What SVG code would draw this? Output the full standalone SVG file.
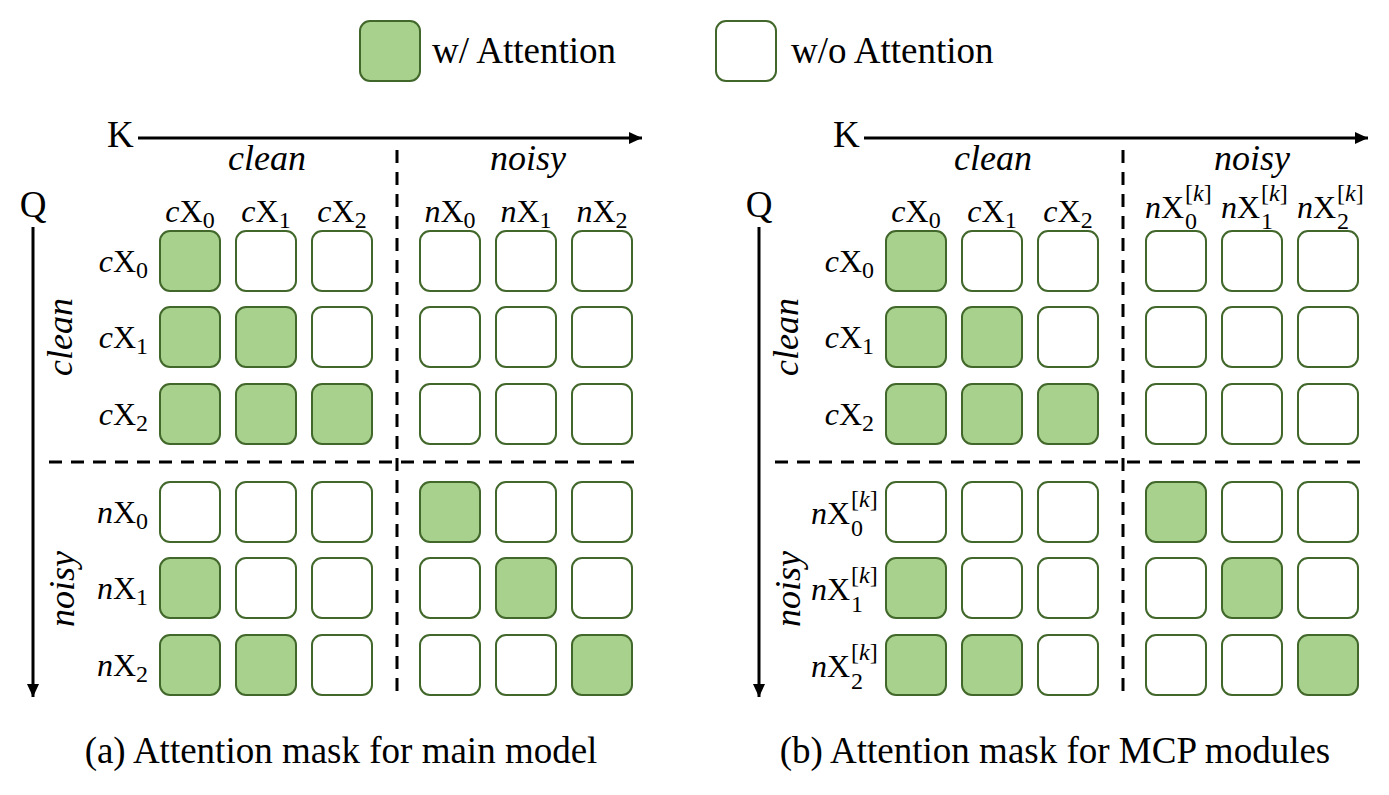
<svg xmlns="http://www.w3.org/2000/svg" width="1389" height="795" viewBox="0 0 1389 795">
<style>
text{font-family:"Liberation Serif","Times New Roman",serif;fill:#000}
.big{font-size:37px}
.hdr{font-size:36px;font-style:italic}
.lbl{font-size:32px}
.it{font-style:italic}
.sub{font-size:24px}
.g{fill:#a9d18e;stroke:#41672a;stroke-width:2}
.w{fill:#fff;stroke:#41672a;stroke-width:2}
.ax{stroke:#000;stroke-width:3;fill:none}
.dash{stroke:#000;stroke-width:3;stroke-dasharray:13 9;fill:none}
</style>
<defs>
<marker id="ah" markerUnits="userSpaceOnUse" markerWidth="14" markerHeight="12" refX="13" refY="6" orient="auto">
<path d="M0,0 L13,6 L0,12 z" fill="#000"/>
</marker>
<rect id="cg" width="60" height="60" rx="10" class="g"/>
<rect id="cw" width="60" height="60" rx="10" class="w"/>
</defs>
<rect width="1389" height="795" fill="#fff"/>

<g id="legend">
<rect x="360" y="21" width="60" height="60" rx="10" class="g"/>
<text x="432" y="63" class="big">w/ Attention</text>
<rect x="716" y="21" width="60" height="60" rx="10" class="w"/>
<text x="791" y="63" class="big">w/o Attention</text>
</g>

<g id="connectors">
<line x1="138" y1="138" x2="642" y2="138" class="ax" marker-end="url(#ah)"/>
<line x1="33" y1="227" x2="33" y2="697" class="ax" marker-end="url(#ah)"/>
<line x1="397" y1="150" x2="397" y2="697" class="dash"/>
<line x1="49" y1="462" x2="634" y2="462" class="dash"/>
<line x1="864" y1="138" x2="1368" y2="138" class="ax" marker-end="url(#ah)"/>
<line x1="759" y1="227" x2="759" y2="697" class="ax" marker-end="url(#ah)"/>
<line x1="1123" y1="150" x2="1123" y2="697" class="dash"/>
<line x1="775" y1="462" x2="1360" y2="462" class="dash"/>
</g>

<g id="panel-a">
<text x="107" y="147" class="big">K</text>
<text x="33" y="217" class="big" text-anchor="middle">Q</text>
<text x="267" y="170" class="hdr" text-anchor="middle">clean</text>
<text x="528" y="170" class="hdr" text-anchor="middle">noisy</text>
<text transform="translate(72,337) rotate(-90)" class="hdr" text-anchor="middle">clean</text>
<text transform="translate(74,589) rotate(-90)" class="hdr" text-anchor="middle">noisy</text>
<g id="a-collabels">
<text x="190" y="222" text-anchor="middle" class="lbl"><tspan class="it">c</tspan>X<tspan class="sub" dy="6">0</tspan></text>
<text x="266" y="222" text-anchor="middle" class="lbl"><tspan class="it">c</tspan>X<tspan class="sub" dy="6">1</tspan></text>
<text x="342" y="222" text-anchor="middle" class="lbl"><tspan class="it">c</tspan>X<tspan class="sub" dy="6">2</tspan></text>
<text x="450" y="222" text-anchor="middle" class="lbl"><tspan class="it">n</tspan>X<tspan class="sub" dy="6">0</tspan></text>
<text x="526" y="222" text-anchor="middle" class="lbl"><tspan class="it">n</tspan>X<tspan class="sub" dy="6">1</tspan></text>
<text x="602" y="222" text-anchor="middle" class="lbl"><tspan class="it">n</tspan>X<tspan class="sub" dy="6">2</tspan></text>
</g>
<g id="a-rowlabels">
<text x="148" y="272" text-anchor="end" class="lbl"><tspan class="it">c</tspan>X<tspan class="sub" dy="6">0</tspan></text>
<text x="148" y="348" text-anchor="end" class="lbl"><tspan class="it">c</tspan>X<tspan class="sub" dy="6">1</tspan></text>
<text x="148" y="425" text-anchor="end" class="lbl"><tspan class="it">c</tspan>X<tspan class="sub" dy="6">2</tspan></text>
<text x="148" y="523" text-anchor="end" class="lbl"><tspan class="it">n</tspan>X<tspan class="sub" dy="6">0</tspan></text>
<text x="148" y="599" text-anchor="end" class="lbl"><tspan class="it">n</tspan>X<tspan class="sub" dy="6">1</tspan></text>
<text x="148" y="676" text-anchor="end" class="lbl"><tspan class="it">n</tspan>X<tspan class="sub" dy="6">2</tspan></text>
</g>
<g id="a-cells">
<use href="#cg" x="160" y="231"/><use href="#cw" x="236" y="231"/><use href="#cw" x="312" y="231"/>
<use href="#cw" x="420" y="231"/><use href="#cw" x="496" y="231"/><use href="#cw" x="572" y="231"/>
<use href="#cg" x="160" y="307"/><use href="#cg" x="236" y="307"/><use href="#cw" x="312" y="307"/>
<use href="#cw" x="420" y="307"/><use href="#cw" x="496" y="307"/><use href="#cw" x="572" y="307"/>
<use href="#cg" x="160" y="384"/><use href="#cg" x="236" y="384"/><use href="#cg" x="312" y="384"/>
<use href="#cw" x="420" y="384"/><use href="#cw" x="496" y="384"/><use href="#cw" x="572" y="384"/>
<use href="#cw" x="160" y="482"/><use href="#cw" x="236" y="482"/><use href="#cw" x="312" y="482"/>
<use href="#cg" x="420" y="482"/><use href="#cw" x="496" y="482"/><use href="#cw" x="572" y="482"/>
<use href="#cg" x="160" y="558"/><use href="#cw" x="236" y="558"/><use href="#cw" x="312" y="558"/>
<use href="#cw" x="420" y="558"/><use href="#cg" x="496" y="558"/><use href="#cw" x="572" y="558"/>
<use href="#cg" x="160" y="635"/><use href="#cg" x="236" y="635"/><use href="#cw" x="312" y="635"/>
<use href="#cw" x="420" y="635"/><use href="#cw" x="496" y="635"/><use href="#cg" x="572" y="635"/>
</g>
<text x="341" y="763" class="big" text-anchor="middle">(a) Attention mask for main model</text>
</g>

<g id="panel-b">
<text x="833" y="147" class="big">K</text>
<text x="759" y="217" class="big" text-anchor="middle">Q</text>
<text x="993" y="170" class="hdr" text-anchor="middle">clean</text>
<text x="1252" y="170" class="hdr" text-anchor="middle">noisy</text>
<text transform="translate(798,337) rotate(-90)" class="hdr" text-anchor="middle">clean</text>
<text transform="translate(800,589) rotate(-90)" class="hdr" text-anchor="middle">noisy</text>
<g id="b-collabels">
<text x="916" y="222" text-anchor="middle" class="lbl"><tspan class="it">c</tspan>X<tspan class="sub" dy="6">0</tspan></text>
<text x="992" y="222" text-anchor="middle" class="lbl"><tspan class="it">c</tspan>X<tspan class="sub" dy="6">1</tspan></text>
<text x="1068" y="222" text-anchor="middle" class="lbl"><tspan class="it">c</tspan>X<tspan class="sub" dy="6">2</tspan></text>
<text x="1184" y="218" text-anchor="end" class="lbl"><tspan class="it">n</tspan>X</text>
<text x="1185" y="229" class="sub">0</text><text x="1185" y="201" class="sub">[<tspan class="it">k</tspan>]</text>
<text x="1260" y="218" text-anchor="end" class="lbl"><tspan class="it">n</tspan>X</text>
<text x="1261" y="229" class="sub">1</text><text x="1261" y="201" class="sub">[<tspan class="it">k</tspan>]</text>
<text x="1336" y="218" text-anchor="end" class="lbl"><tspan class="it">n</tspan>X</text>
<text x="1337" y="229" class="sub">2</text><text x="1337" y="201" class="sub">[<tspan class="it">k</tspan>]</text>
</g>
<g id="b-rowlabels">
<text x="874" y="272" text-anchor="end" class="lbl"><tspan class="it">c</tspan>X<tspan class="sub" dy="6">0</tspan></text>
<text x="874" y="348" text-anchor="end" class="lbl"><tspan class="it">c</tspan>X<tspan class="sub" dy="6">1</tspan></text>
<text x="874" y="425" text-anchor="end" class="lbl"><tspan class="it">c</tspan>X<tspan class="sub" dy="6">2</tspan></text>
<text x="850" y="524" text-anchor="end" class="lbl"><tspan class="it">n</tspan>X</text>
<text x="851" y="536" class="sub">0</text><text x="851" y="507" class="sub">[<tspan class="it">k</tspan>]</text>
<text x="850" y="600" text-anchor="end" class="lbl"><tspan class="it">n</tspan>X</text>
<text x="851" y="612" class="sub">1</text><text x="851" y="583" class="sub">[<tspan class="it">k</tspan>]</text>
<text x="850" y="677" text-anchor="end" class="lbl"><tspan class="it">n</tspan>X</text>
<text x="851" y="689" class="sub">2</text><text x="851" y="660" class="sub">[<tspan class="it">k</tspan>]</text>
</g>
<g id="b-cells">
<use href="#cg" x="886" y="231"/><use href="#cw" x="962" y="231"/><use href="#cw" x="1038" y="231"/>
<use href="#cw" x="1146" y="231"/><use href="#cw" x="1222" y="231"/><use href="#cw" x="1298" y="231"/>
<use href="#cg" x="886" y="307"/><use href="#cg" x="962" y="307"/><use href="#cw" x="1038" y="307"/>
<use href="#cw" x="1146" y="307"/><use href="#cw" x="1222" y="307"/><use href="#cw" x="1298" y="307"/>
<use href="#cg" x="886" y="384"/><use href="#cg" x="962" y="384"/><use href="#cg" x="1038" y="384"/>
<use href="#cw" x="1146" y="384"/><use href="#cw" x="1222" y="384"/><use href="#cw" x="1298" y="384"/>
<use href="#cw" x="886" y="482"/><use href="#cw" x="962" y="482"/><use href="#cw" x="1038" y="482"/>
<use href="#cg" x="1146" y="482"/><use href="#cw" x="1222" y="482"/><use href="#cw" x="1298" y="482"/>
<use href="#cg" x="886" y="558"/><use href="#cw" x="962" y="558"/><use href="#cw" x="1038" y="558"/>
<use href="#cw" x="1146" y="558"/><use href="#cg" x="1222" y="558"/><use href="#cw" x="1298" y="558"/>
<use href="#cg" x="886" y="635"/><use href="#cg" x="962" y="635"/><use href="#cw" x="1038" y="635"/>
<use href="#cw" x="1146" y="635"/><use href="#cw" x="1222" y="635"/><use href="#cg" x="1298" y="635"/>
</g>
<text x="1055" y="763" class="big" text-anchor="middle">(b) Attention mask for MCP modules</text>
</g>
</svg>
